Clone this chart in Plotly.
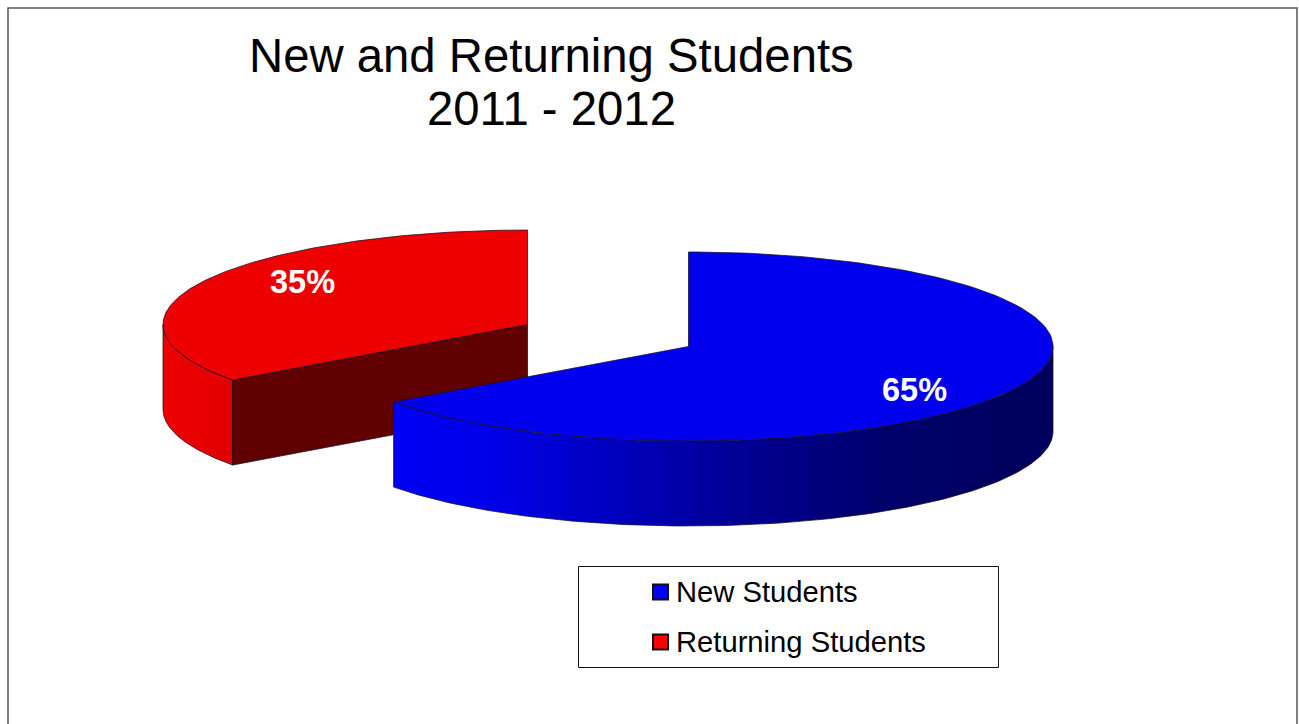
import numpy as np
import plotly.graph_objects as go

# Enrollment split
categories = ["New Students", "Returning Students"]
shares = [65, 35]
top_colors = ["#0000EE", "#EE0000"]
swatch_colors = ["#0000FF", "#FF0000"]
title_lines = ["New and Returning Students", "2011 - 2012"]

# Projection of the tilted pie onto the page
RX, RY, DEPTH = 364.5, 94.5, 85
BLUE_CENTER = (688.5, 346.5)
RED_CENTER = (527.5, 324.5)
EDGE = "rgba(25,15,40,0.75)"

end_new = shares[0] / sum(shares) * 2 * np.pi


def arc(center, start, stop, n=160):
    """Points of the pie rim, with angles clockwise from twelve o'clock."""
    t = np.linspace(start, stop, n)
    return center[0] + RX * np.sin(t), center[1] - RY * np.cos(t)


def wall(center, start, stop):
    x, y = arc(center, start, stop)
    return np.r_[x, x[::-1], x[0]], np.r_[y, y[::-1] + DEPTH, y[0]]


def wedge(center, start, stop):
    x, y = arc(center, start, stop)
    return np.r_[center[0], x, center[0]], np.r_[center[1], y, center[1]]


def poly(x, y, color=None, gradient=None):
    kw = dict(fillgradient=gradient) if gradient else dict(fillcolor=color)
    return go.Scatter(x=x, y=y, mode="lines", fill="toself",
                      line=dict(color=EDGE, width=1), showlegend=False,
                      hoverinfo="skip", **kw)


fig = go.Figure()

# Returning students: outer wall, cut face, then top
wx, wy = wall(RED_CENTER, end_new, 1.5 * np.pi)
fig.add_trace(poly(wx, wy, gradient=dict(
    type="horizontal", start=float(wx.min()), stop=float(wx.max()),
    colorscale=[[0, "#EE0000"], [1, "#E00000"]])))
cx, cy = arc(RED_CENTER, end_new, end_new, n=1)
fig.add_trace(poly(
    [RED_CENTER[0], cx[0], cx[0], RED_CENTER[0], RED_CENTER[0]],
    [RED_CENTER[1], cy[0], cy[0] + DEPTH, RED_CENTER[1] + DEPTH, RED_CENTER[1]],
    color="#600000"))
fig.add_trace(poly(*wedge(RED_CENTER, end_new, 2 * np.pi), color=top_colors[1]))

# New students: outer wall with its left-to-right shading, then top
wx, wy = wall(BLUE_CENTER, 0.5 * np.pi, end_new)
fig.add_trace(poly(wx, wy, gradient=dict(
    type="horizontal", start=float(wx.min()), stop=float(wx.max()),
    colorscale=[[0, "#0000F5"], [0.15, "#0000E8"], [0.5, "#000098"],
                [0.75, "#00006A"], [1, "#00005C"]])))
fig.add_trace(poly(*wedge(BLUE_CENTER, 0, end_new), color=top_colors[0]))

# Percentage labels on the slices
label_pos = [(914, 390), (302, 282)]
annotations = [
    dict(x=p[0], y=p[1], text=f"{v}%", showarrow=False, xref="x", yref="y",
         font=dict(family="Liberation Sans", size=32.5, color="white", weight="bold"))
    for v, p in zip(shares, label_pos)
]

# Title lines
for line, y in zip(title_lines, (55, 108)):
    annotations.append(dict(x=551, y=y, text=line, showarrow=False, xref="x", yref="y",
                            font=dict(family="Liberation Sans", size=47.3, color="black")))

# Legend entries
shapes = [
    dict(type="rect", x0=8, y0=8, x1=1297, y1=740, xref="x", yref="y",
         line=dict(color="#555555", width=1.5), layer="below"),
    dict(type="rect", x0=578.5, y0=566.5, x1=998.5, y1=667.5, xref="x", yref="y",
         line=dict(color="#111111", width=1)),
]
for name, color, y in zip(categories, swatch_colors, (592, 642)):
    shapes.append(dict(type="rect", x0=653, x1=668, y0=y - 7.5, y1=y + 7.5, xref="x", yref="y",
                       fillcolor=color, line=dict(color="#111111", width=2)))
    annotations.append(dict(x=674, y=y, text=name, showarrow=False, xanchor="left",
                            xref="x", yref="y",
                            font=dict(family="Liberation Sans", size=29.2, color="black")))

fig.update_layout(
    width=1299, height=724, autosize=False,
    margin=dict(l=0, r=0, t=0, b=0),
    paper_bgcolor="white", plot_bgcolor="white",
    xaxis=dict(range=[0, 1299], visible=False, fixedrange=True),
    yaxis=dict(range=[724, 0], visible=False, fixedrange=True),
    shapes=shapes, annotations=annotations, showlegend=False,
)

fig.write_html("out.html", config=dict(displayModeBar=False))
